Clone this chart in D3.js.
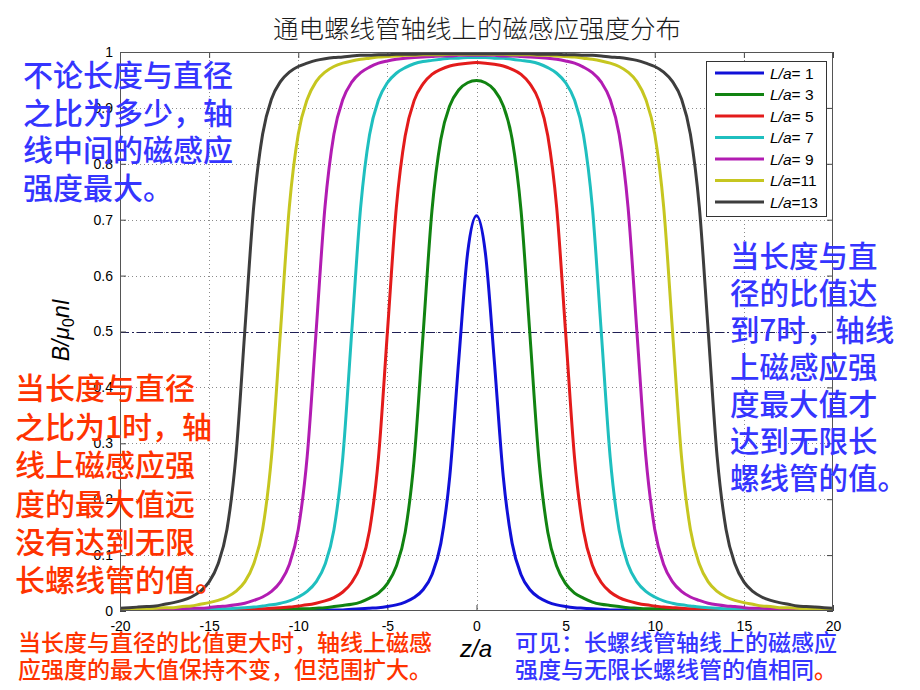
<!DOCTYPE html>
<html><head><meta charset="utf-8">
<script src="https://cdn.jsdelivr.net/npm/d3@7"></script>
<style>body{margin:0;background:#fff}svg{display:block}</style>
</head><body><svg id="c" width="920" height="690"></svg>
<script>
// ---- data ----
const zValues = [-20,-19.5,-19,-18.5,-18,-17.5,-17,-16.5,-16,-15.5,-15,-14.5,-14,-13.5,-13,-12.5,-12,-11.5,-11,-10.5,-10,-9.5,-9,-8.5,-8,-7.5,-7,-6.5,-6,-5.5,-5,-4.5,-4,-3.5,-3,-2.5,-2,-1.5,-1,-0.5,0,0.5,1,1.5,2,2.5,3,3.5,4,4.5,5,5.5,6,6.5,7,7.5,8,8.5,9,9.5,10,10.5,11,11.5,12,12.5,13,13.5,14,14.5,15,15.5,16,16.5,17,17.5,18,18.5,19,19.5,20];
const ratios = [1,3,5,7,9,11,13];
const legendLabels = ["= 1","= 3","= 5","= 7","= 9","=11","=13"];
const bL1 = [0,0,0,0,0,0,0,0,0,0,0,0,0,0,0,0.001,0.001,0.001,0.001,0.001,0.001,0.001,0.001,0.002,0.002,0.002,0.003,0.004,0.005,0.006,0.008,0.011,0.016,0.024,0.038,0.065,0.121,0.241,0.447,0.640,0.707,0.640,0.447,0.241,0.121,0.065,0.038,0.024,0.016,0.011,0.008,0.006,0.005,0.004,0.003,0.002,0.002,0.002,0.001,0.001,0.001,0.001,0.001,0.001,0.001,0.001,0,0,0,0,0,0,0,0,0,0,0,0,0,0,0];
const bL3 = [0,0.001,0.001,0.001,0.001,0.001,0.001,0.001,0.001,0.001,0.001,0.001,0.001,0.001,0.002,0.002,0.002,0.002,0.003,0.003,0.004,0.004,0.005,0.006,0.008,0.010,0.012,0.016,0.023,0.032,0.049,0.080,0.141,0.271,0.493,0.716,0.844,0.904,0.932,0.945,0.949,0.945,0.932,0.904,0.844,0.716,0.493,0.271,0.141,0.080,0.049,0.032,0.023,0.016,0.012,0.010,0.008,0.006,0.005,0.004,0.004,0.003,0.003,0.002,0.002,0.002,0.002,0.001,0.001,0.001,0.001,0.001,0.001,0.001,0.001,0.001,0.001,0.001,0.001,0.001,0];
const bL5 = [0.001,0.001,0.001,0.001,0.001,0.001,0.001,0.001,0.001,0.002,0.002,0.002,0.002,0.003,0.003,0.004,0.004,0.005,0.006,0.007,0.009,0.011,0.014,0.018,0.024,0.034,0.051,0.082,0.144,0.274,0.498,0.721,0.850,0.913,0.943,0.960,0.969,0.975,0.978,0.980,0.981,0.980,0.978,0.975,0.969,0.960,0.943,0.913,0.850,0.721,0.498,0.274,0.144,0.082,0.051,0.034,0.024,0.018,0.014,0.011,0.009,0.007,0.006,0.005,0.004,0.004,0.003,0.003,0.002,0.002,0.002,0.002,0.001,0.001,0.001,0.001,0.001,0.001,0.001,0.001,0.001];
const bL7 = [0.001,0.001,0.001,0.001,0.002,0.002,0.002,0.002,0.003,0.003,0.003,0.004,0.004,0.005,0.006,0.007,0.009,0.011,0.014,0.018,0.025,0.035,0.052,0.083,0.145,0.275,0.499,0.722,0.852,0.914,0.945,0.962,0.972,0.979,0.983,0.985,0.987,0.989,0.989,0.990,0.990,0.990,0.989,0.989,0.987,0.985,0.983,0.979,0.972,0.962,0.945,0.914,0.852,0.722,0.499,0.275,0.145,0.083,0.052,0.035,0.025,0.018,0.014,0.011,0.009,0.007,0.006,0.005,0.004,0.004,0.003,0.003,0.003,0.002,0.002,0.002,0.002,0.001,0.001,0.001,0.001];
const bL9 = [0.002,0.002,0.002,0.002,0.003,0.003,0.003,0.004,0.005,0.005,0.006,0.008,0.009,0.011,0.014,0.019,0.025,0.035,0.052,0.083,0.146,0.276,0.499,0.723,0.853,0.915,0.946,0.963,0.973,0.980,0.984,0.987,0.989,0.990,0.991,0.992,0.993,0.993,0.994,0.994,0.994,0.994,0.994,0.993,0.993,0.992,0.991,0.990,0.989,0.987,0.984,0.980,0.973,0.963,0.946,0.915,0.853,0.723,0.499,0.276,0.146,0.083,0.052,0.035,0.025,0.019,0.014,0.011,0.009,0.008,0.006,0.005,0.005,0.004,0.003,0.003,0.003,0.002,0.002,0.002,0.002];
const bL11 = [0.003,0.003,0.004,0.004,0.005,0.006,0.006,0.008,0.009,0.012,0.015,0.019,0.025,0.035,0.052,0.084,0.146,0.276,0.499,0.723,0.853,0.915,0.947,0.964,0.974,0.980,0.984,0.987,0.989,0.991,0.992,0.993,0.994,0.994,0.995,0.995,0.995,0.996,0.996,0.996,0.996,0.996,0.996,0.996,0.995,0.995,0.995,0.994,0.994,0.993,0.992,0.991,0.989,0.987,0.984,0.980,0.974,0.964,0.947,0.915,0.853,0.723,0.499,0.276,0.146,0.084,0.052,0.035,0.025,0.019,0.015,0.012,0.009,0.008,0.006,0.006,0.005,0.004,0.004,0.003,0.003];
const bL13 = [0.005,0.006,0.007,0.008,0.009,0.012,0.015,0.019,0.025,0.035,0.052,0.084,0.146,0.276,0.500,0.723,0.853,0.916,0.947,0.964,0.974,0.980,0.985,0.988,0.990,0.991,0.993,0.994,0.994,0.995,0.995,0.996,0.996,0.996,0.997,0.997,0.997,0.997,0.997,0.997,0.997,0.997,0.997,0.997,0.997,0.997,0.997,0.996,0.996,0.996,0.995,0.995,0.994,0.994,0.993,0.991,0.990,0.988,0.985,0.980,0.974,0.964,0.947,0.916,0.853,0.723,0.500,0.276,0.146,0.084,0.052,0.035,0.025,0.019,0.015,0.012,0.009,0.008,0.007,0.006,0.005];
const xTicks = [-20,-15,-10,-5,0,5,10,15,20];
const xTickLabels = ["-20","-15","-10","-5","0","5","10","15","20"];
const yTicks = [0,0.1,0.2,0.3,0.4,0.5,0.6,0.7,0.8,0.9,1];
const yTickLabels = ["0","0.1","0.2","0.3","0.4","0.5","0.6","0.7","0.8","0.9","1"];
const refLevel = [0.5];
const titleText = "通电螺线管轴线上的磁感应强度分布";
const noteTopLeft = ["不论长度与直径","之比为多少，轴","线中间的磁感应","强度最大。"];
const noteLeft = ["当长度与直径","之比为1时，轴","线上磁感应强","度的最大值远","没有达到无限","长螺线管的值。"];
const noteRight = ["当长度与直","径的比值达","到7时，轴线","上磁感应强","度最大值才","达到无限长","螺线管的值。"];
const noteBottomLeft = ["当长度与直径的比值更大时，轴线上磁感","应强度的最大值保持不变，但范围扩大。"];
const noteBottomRight = ["可见：长螺线管轴线上的磁感应","强度与无限长螺线管的值相同"];

// ---- styles ----
const seriesValues = [bL1,bL3,bL5,bL7,bL9,bL11,bL13];
const colors = ["#1010d8","#118311","#e31b1b","#1fbfbf","#b21cb2","#c6c620","#3d3d3d"];
const CJK = "'Noto Sans CJK SC','Noto Sans',sans-serif";
const LAT = "'Liberation Sans',Arial,sans-serif";
const BLUE = "#3535ff", RED = "#ff3300";

const svg = d3.select("#c");
svg.append("rect").attr("width",920).attr("height",690).attr("fill","#fff");
const X0=120, X1=833, Y0=52, Y1=611;
const x = d3.scaleLinear().domain([-20,20]).range([X0,X1]);
const y = d3.scaleLinear().domain([0,1]).range([Y1,Y0]);
const px = v => Math.round(v)+0.5;

// grid
const grid = svg.append("g").attr("stroke","#8a8a8a").attr("stroke-width",1).attr("stroke-dasharray","1,3");
grid.selectAll(".gx").data(xTicks.slice(1,-1)).join("line")
  .attr("x1",d=>px(x(d))).attr("x2",d=>px(x(d))).attr("y1",Y0).attr("y2",Y1);
grid.selectAll(".gy").data(yTicks.slice(1,-1)).join("line")
  .attr("y1",d=>px(y(d))).attr("y2",d=>px(y(d))).attr("x1",X0).attr("x2",X1);

// reference dash-dot line
svg.selectAll(".ref").data(refLevel).join("line")
  .attr("x1",X0).attr("x2",X1).attr("y1",d=>px(y(d))).attr("y2",d=>px(y(d)))
  .attr("stroke","#1f1f55").attr("stroke-width",1).attr("stroke-dasharray","9,3,2,3");

// axes
function styleAxis(g){
  g.select(".domain").remove();
  g.selectAll(".tick line").attr("stroke","#444");
  g.selectAll("text").attr("font-family",LAT).attr("font-size",14).attr("fill","#000");
}
svg.append("g").attr("transform",`translate(0,${Y1})`)
  .call(d3.axisBottom(x).tickValues(xTicks).tickSizeInner(-6).tickSizeOuter(0).tickPadding(10).tickFormat((d,i)=>xTickLabels[i])).call(styleAxis);
svg.append("g").attr("transform",`translate(0,${Y0})`)
  .call(d3.axisTop(x).tickValues(xTicks).tickSizeInner(-6).tickSizeOuter(0).tickFormat("")).call(styleAxis);
svg.append("g").attr("transform",`translate(${X0},0)`)
  .call(d3.axisLeft(y).tickValues(yTicks).tickSizeInner(-6).tickSizeOuter(0).tickPadding(7).tickFormat((d,i)=>yTickLabels[i])).call(styleAxis);
svg.append("g").attr("transform",`translate(${X1},0)`)
  .call(d3.axisRight(y).tickValues(yTicks).tickSizeInner(-6).tickSizeOuter(0).tickFormat("")).call(styleAxis);

// curves
svg.append("clipPath").attr("id","clip").append("rect").attr("x",X0).attr("y",Y0-3).attr("width",X1-X0).attr("height",Y1-Y0+3);
const line = d3.line().x((d,i)=>x(zValues[i])).y(d=>y(d)).curve(d3.curveMonotoneX);
svg.append("g").attr("clip-path","url(#clip)").selectAll("path").data(seriesValues).join("path")
  .attr("d",d=>line(d)).attr("fill","none").attr("stroke",(d,i)=>colors[i]).attr("stroke-width",3).attr("stroke-linejoin","round");

// box
svg.append("rect").attr("x",X0+0.5).attr("y",Y0+0.5).attr("width",X1-X0-1).attr("height",Y1-Y0-1)
  .attr("fill","none").attr("stroke","#555").attr("stroke-width",1);

// legend
const lg = svg.append("g");
lg.append("rect").attr("x",706.5).attr("y",61.5).attr("width",120).attr("height",155).attr("fill","#fff").attr("stroke","#333");
const rows = lg.selectAll(".row").data(ratios).join("g").attr("transform",(d,i)=>`translate(0,${73+i*21.5})`);
rows.append("line").attr("x1",715).attr("x2",764).attr("y1",0).attr("y2",0).attr("stroke",(d,i)=>colors[i]).attr("stroke-width",3);
const lt = rows.append("text").attr("x",770).attr("y",5.5).attr("font-family",LAT).attr("font-size",15.5).attr("fill","#000");
lt.append("tspan").attr("font-style","italic").text("L/a");
lt.append("tspan").text((d,i)=>legendLabels[i]);

// title
svg.append("text").attr("x",477).attr("y",38).attr("text-anchor","middle").attr("font-family",CJK)
  .attr("font-size",25.5).attr("font-weight",300).attr("fill","#1a1a1a").text(titleText);

// axis labels
svg.append("text").attr("x",476).attr("y",657).attr("text-anchor","middle").attr("font-family",LAT)
  .attr("font-size",24).attr("font-style","italic").attr("fill","#000").text("z/a");
const yl = svg.append("text").attr("transform","translate(69,330) rotate(-90)").attr("text-anchor","middle")
  .attr("font-family",LAT).attr("font-size",23).attr("fill","#000");
yl.append("tspan").attr("font-style","italic").text("B/μ");
yl.append("tspan").attr("font-size",16).attr("dy",5).text("0");
yl.append("tspan").attr("font-style","italic").attr("dy",-5).text("nI");

// annotations
function note(lines, x0, c0, step, fs, color){
  svg.append("g").selectAll("text").data(lines).join("text")
    .attr("x",x0).attr("y",(d,i)=>c0+i*step+0.38*fs)
    .attr("font-family",CJK).attr("font-size",fs).attr("font-weight",500).attr("fill",color).text(d=>d);
}
note(noteTopLeft, 23, 75, 37.5, 30, BLUE);
note(noteLeft, 15, 388, 38.4, 30, RED);
note(noteRight, 730, 256, 37, 29.5, BLUE);
note(noteBottomLeft, 18, 642.5, 27, 23, RED);
note(noteBottomRight, 515, 642.5, 27, 23, BLUE);
svg.append("text").attr("x",515+13*23).attr("y",669.5+0.38*23).attr("font-family",CJK).attr("font-size",23).attr("font-weight",500).attr("fill",RED).text("。");
</script></body></html>
